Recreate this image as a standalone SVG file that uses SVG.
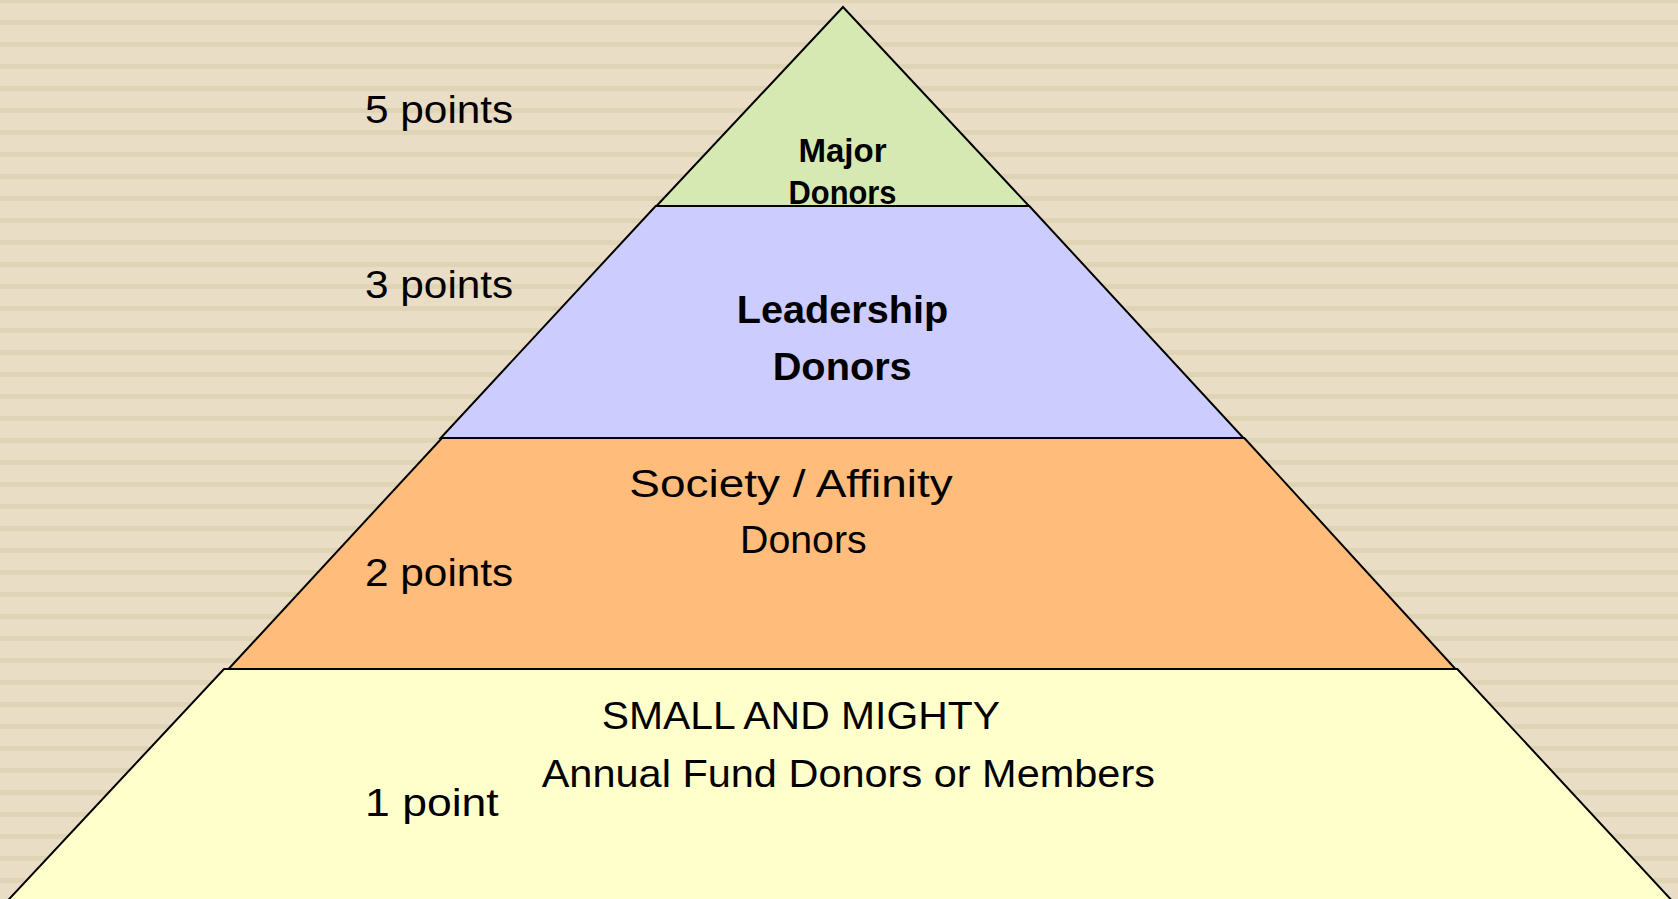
<svg xmlns="http://www.w3.org/2000/svg" width="1678" height="899" viewBox="0 0 1678 899">
  <defs>
    <pattern id="stripes" patternUnits="userSpaceOnUse" x="0" y="-2" width="40" height="22">
      <rect x="0" y="0" width="40" height="22" fill="#E9DDC5"/>
      <rect x="0" y="0" width="40" height="5" fill="#E0D4B7"/>
    </pattern>
  </defs>
  <style>
    .tier { stroke: #000; stroke-width: 2; stroke-linejoin: miter; }
    .lbl { font-family: "Liberation Sans", Arial, sans-serif; fill: #000; }
    .pts { font-size: 39px; }
    .name { font-size: 39px; }
    .bold { font-weight: bold; }
  </style>

  <!-- striped backdrop -->
  <rect x="0" y="0" width="1678" height="899" fill="url(#stripes)"/>

  <!-- top tier -->
  <g id="tier-major">
    <polygon class="tier" fill="#D7E9B2" points="843,7 656.5,206 1029,206"/>
    <text class="lbl bold" font-size="34" x="798.5" y="161.5" textLength="88" lengthAdjust="spacingAndGlyphs">Major</text>
    <text class="lbl bold" font-size="34" x="788.5" y="204" textLength="108" lengthAdjust="spacingAndGlyphs">Donors</text>
  </g>

  <!-- second tier -->
  <g id="tier-leadership">
    <polygon class="tier" fill="#CCCCFF" points="655.7,206 1029.3,206 1243.5,438 440.7,438"/>
    <text class="lbl bold name" x="736.7" y="323.3" textLength="211.6" lengthAdjust="spacingAndGlyphs">Leadership</text>
    <text class="lbl bold name" x="772.7" y="380" textLength="139" lengthAdjust="spacingAndGlyphs">Donors</text>
  </g>

  <!-- third tier -->
  <g id="tier-society">
    <polygon class="tier" fill="#FFBC7A" points="442,438 1244.3,438 1455.5,669 228.5,669"/>
    <text class="lbl name" x="629.3" y="496.7" textLength="323.4" lengthAdjust="spacingAndGlyphs">Society / Affinity</text>
    <text class="lbl name" x="740" y="553.3" textLength="126.7" lengthAdjust="spacingAndGlyphs">Donors</text>
  </g>

  <!-- base tier -->
  <g id="tier-annual">
    <polygon class="tier" fill="#FFFFCC" points="224,669 1457.3,669 1676,905 3.6,905"/>
    <text class="lbl name" x="601.7" y="728.5" textLength="398.3" lengthAdjust="spacingAndGlyphs">SMALL AND MIGHTY</text>
    <text class="lbl name" x="541.7" y="786.7" textLength="613.3" lengthAdjust="spacingAndGlyphs">Annual Fund Donors or Members</text>
  </g>

  <!-- point values per tier -->
  <g id="point-labels">
    <text class="lbl pts" x="365" y="123.3" textLength="148.3" lengthAdjust="spacingAndGlyphs">5 points</text>
    <text class="lbl pts" x="365" y="297.5" textLength="148.3" lengthAdjust="spacingAndGlyphs">3 points</text>
    <text class="lbl pts" x="365" y="585.5" textLength="148.3" lengthAdjust="spacingAndGlyphs">2 points</text>
    <text class="lbl pts" x="365" y="815.5" textLength="133.7" lengthAdjust="spacingAndGlyphs">1 point</text>
  </g>
</svg>
